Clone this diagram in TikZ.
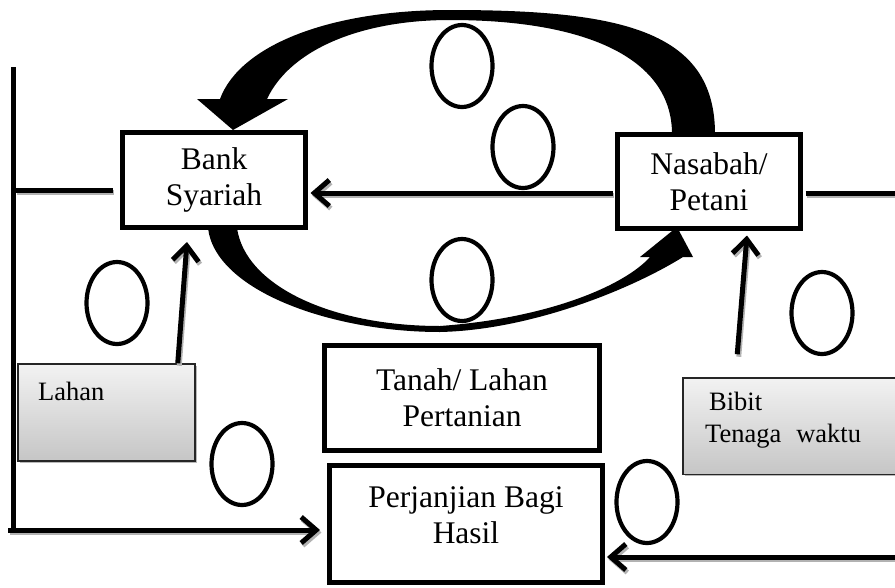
\documentclass[tikz,border=0pt]{standalone}
\usepackage{fontspec}
\setmainfont{Liberation Serif}
\usetikzlibrary{arrows.meta,shapes.geometric,calc}
\begin{document}
\begin{tikzpicture}[x=1pt,y=-1pt,
  box/.style={draw, line width=5pt, inner sep=0pt, fill=white},
  boxtext/.style={font=\fontsize{31.5}{36}\selectfont, align=center},
  oval/.style={draw, ellipse, line width=4.2pt, minimum width=61pt, minimum height=82pt, inner sep=0pt},
  conn/.style={line width=5pt, preaction={draw=gray!60, line width=5pt, transform canvas={shift={(1.5pt,-2.5pt)}}}},
  tip/.style={-{Straight Barb[length=15pt,width=26pt]}},
  graybox/.style={draw=black!85, line width=1.5pt, top color=gray!10, bottom color=gray!45, inner sep=0pt,
    preaction={fill=gray!55, transform canvas={shift={(2pt,-2pt)}}}},
  smalltext/.style={font=\fontsize{26.5}{32}\selectfont, anchor=base west, inner sep=0pt}]
\useasboundingbox (0,0) rectangle (895,587);
\clip (0,0) rectangle (895,587);

% curved thick arrows
\fill (715,134) .. controls (715,30) and (620,10) .. (450,10)
  .. controls (330,10) and (240,45) .. (220,99) -- (197,99) -- (233,130) -- (288,99) -- (267,99)
  .. controls (290,50) and (360,20) .. (450,20)
  .. controls (590,20) and (672,60) .. (672,134) -- cycle;
\fill (208,228) .. controls (215,290) and (330,332) .. (440,332)
  .. controls (530,330) and (630,290) .. (683,257) -- (693,257) -- (677,227) -- (640,257) -- (650,257)
  .. controls (625,285) and (550,318) .. (440,326)
  .. controls (330,326) and (245,285) .. (237,228) -- cycle;

% boxes (positions)
\node[box, minimum width=183pt, minimum height=95pt] (bank) at (214,180) {};
\node[box, minimum width=183pt, minimum height=94pt] (nas) at (709,181.5) {};
\node[box, minimum width=275pt, minimum height=105pt] (tanah) at (462,398) {};
\node[box, minimum width=273pt, minimum height=117pt] (perj) at (466,524) {};
\node[graybox, minimum width=177pt, minimum height=97pt] (lahan) at (106.5,412.5) {};
\node[graybox, minimum width=226.5pt, minimum height=96.5pt] (bibit) at (796,426) {};

% connectors
\coordinate (vtop) at (13,67);
\coordinate (vbot) at (13,532.5);
\coordinate (hs) at (8,530);
\coordinate (rs) at (895,557);
\coordinate (ls) at (15,190);
\coordinate (hl) at (0,193);
\coordinate (re) at (895,193);
\draw[line width=5pt] (vtop) -- (vbot);
\draw[conn,tip,shorten >=7pt] (hs) -- (hs -| perj.west);
\draw[conn,tip,shorten >=2pt] (rs) -- (rs -| perj.east);
\draw[conn,shorten >=7.5pt] (ls) -- (ls -| bank.west);
\draw[conn,tip,shorten >=2.5pt,shorten <=2.5pt] (nas.west |- hl) -- (bank.east |- hl);
\draw[conn,shorten <=2.5pt] (nas.east |- hl) -- (re);
\draw[conn,tip] ($(lahan.north east)+(-18,0)$) -- ($(bank.south)+(-27,12)$);
\draw[conn,tip] ($(bibit.north west)+(55.25,-22.75)$) -- ($(nas.south)+(38,4.5)$);

% boxes redrawn on top with text
\node[box, minimum width=183pt, minimum height=95pt, boxtext] at (bank.center) {Bank\\Syariah};
\node[box, minimum width=183pt, minimum height=94pt, boxtext] at (nas.center) {Nasabah/\\Petani};
\node[box, minimum width=275pt, minimum height=105pt, boxtext] at (tanah.center) {Tanah/ Lahan\\Pertanian};
\node[box, minimum width=273pt, minimum height=117pt] at (perj.center) {};
\node[boxtext] (perjtext) at (466,515) {Perjanjian Bagi\\Hasil};
\node[smalltext] (lahantext) at (38,400) {Lahan};
\node[smalltext] (bibittext) at (709,410) {Bibit};
\node[smalltext] (tenagatext) at (705,442) {Tenaga\hspace{15pt}waktu};

% ovals
\node[oval] (e1) at (462,66) {};
\node[oval] (e2) at (523,147) {};
\node[oval] (e3) at (117,303) {};
\node[oval] (e4) at (462,280) {};
\node[oval] (e5) at (822,313) {};
\node[oval] (e6) at (242,464) {};
\node[oval] (e7) at (647,502) {};
\end{tikzpicture}
\end{document}
